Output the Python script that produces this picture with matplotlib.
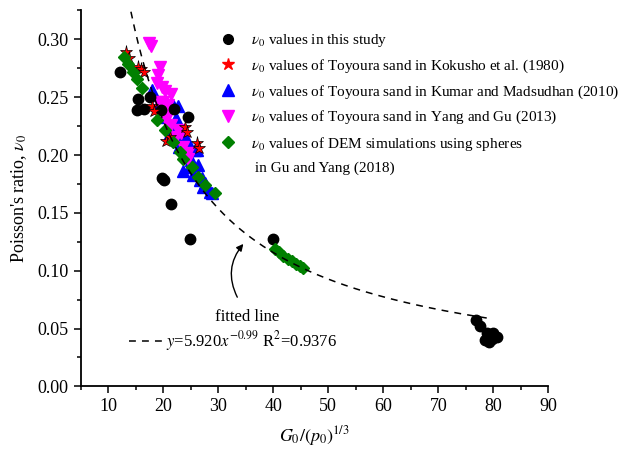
import matplotlib
matplotlib.use("Agg")
import matplotlib.pyplot as plt
from matplotlib.lines import Line2D
from matplotlib.ticker import MultipleLocator
import numpy as np

plt.rcParams["font.family"] = ["Liberation Serif", "DejaVu Serif"]
plt.rcParams["mathtext.fontset"] = "stix"

# this study
study_x = [12.1, 15.5, 15.2, 16.5, 17.6, 19.6, 22.0, 24.5, 19.7, 20.1, 21.5, 24.9, 39.9,
           76.8, 77.6, 78.8, 78.5, 79.7, 80.6, 80.0, 79.3]
study_y = [0.272, 0.248, 0.239, 0.240, 0.250, 0.239, 0.2396, 0.233, 0.180, 0.178, 0.158, 0.127, 0.127,
           0.0575, 0.052, 0.046, 0.040, 0.041, 0.043, 0.046, 0.0387]

# Kokusho et al. (1980)
kok_x = [13.3, 13.8, 15.5, 16.0, 16.5, 17.9, 18.3, 20.6, 21.2, 23.9, 24.4, 26.1, 26.5]
kok_y = [0.289, 0.284, 0.276, 0.274, 0.272, 0.242, 0.238, 0.212, 0.216, 0.2245, 0.220, 0.210, 0.206]

# Kumar and Madsudhan (2010)
kum_x = [17.9, 19.5, 20.6, 21.5, 21.8, 22.7, 22.4, 21.2, 23.6, 24.3, 25.8, 26.1, 24.9, 26.4,
         25.5, 27.0, 27.6, 28.8, 26.7, 28.5, 23.6, 25.0, 22.8, 27.3]
kum_y = [0.256, 0.245, 0.233, 0.222, 0.243, 0.242, 0.232, 0.219, 0.216, 0.213, 0.204, 0.204, 0.190, 0.191,
         0.183, 0.180, 0.1756, 0.167, 0.178, 0.168, 0.186, 0.196, 0.207, 0.172]

# Yang and Gu (2013)
yg_x = [17.4, 17.7, 19.4, 19.1, 18.8, 19.7, 20.3, 21.5, 20.0, 20.9, 19.1, 19.7, 20.6, 21.5,
        22.7, 23.6, 24.5, 24.5, 22.4, 23.3, 20.9]
yg_y = [0.297, 0.294, 0.276, 0.269, 0.262, 0.259, 0.255, 0.253, 0.246, 0.243, 0.246, 0.240, 0.230, 0.226,
        0.2217, 0.207, 0.2015, 0.197, 0.216, 0.219, 0.236]

# DEM, Gu and Yang (2018)
dem_x = [12.8, 13.6, 14.5, 15.2, 16.1, 18.8, 20.3, 21.8, 23.0, 23.6, 26.4, 27.6, 29.4, 25.2,
         40.3, 41.0, 41.8, 42.6, 43.4, 44.2, 44.9, 45.4]
dem_y = [0.285, 0.279, 0.272, 0.266, 0.258, 0.230, 0.222, 0.2116, 0.203, 0.197, 0.181, 0.174, 0.167, 0.190,
         0.119, 0.116, 0.113, 0.110, 0.108, 0.106, 0.104, 0.102]

# fitted power law as drawn
fit_a = 4.46
fit_b = -0.99
fit_range = (13.5, 79.0)

fig = plt.figure(figsize=(6.35, 4.53), dpi=100)
ax = fig.add_axes([0.127, 0.147, 0.7365, 0.83])

ax.plot(kum_x, kum_y, "^", color="blue", ms=8.5, mec="blue", ls="none", zorder=2)
ax.plot(yg_x, yg_y, "v", color="#ff00ff", ms=8.5, mec="#ff00ff", ls="none", zorder=3)
ax.plot(study_x, study_y, "o", color="black", ms=7.5, ls="none", zorder=4)
ax.plot(kok_x, kok_y, "*", color="red", ms=9.5, mec="black", mew=0.5, ls="none", zorder=5)
ax.plot(dem_x, dem_y, "D", color="green", ms=6.5, mec="green", ls="none", zorder=6)

xf = np.linspace(fit_range[0], fit_range[1], 200)
ax.plot(xf, fit_a * xf ** fit_b, "--", color="black", lw=1.1, dashes=(4.5, 4), zorder=7)

ax.set_xlim(5, 90)
ax.set_ylim(0, 0.325)
ax.xaxis.set_major_locator(MultipleLocator(10))
ax.xaxis.set_minor_locator(MultipleLocator(5))
ax.yaxis.set_major_locator(MultipleLocator(0.05))
ax.yaxis.set_minor_locator(MultipleLocator(0.025))
ax.yaxis.set_major_formatter(plt.FormatStrFormatter("%.2f"))
for s in ["top", "right"]:
    ax.spines[s].set_visible(False)
for s in ["left", "bottom"]:
    ax.spines[s].set_linewidth(1.3)
ax.tick_params(which="major", direction="out", length=5, width=1.1, labelsize=13)
ax.tick_params(which="minor", direction="out", length=3, width=1.1)

ax.set_xlabel(r"$G_0/(p_0)^{1/3}$", fontsize=13, labelpad=6)
ax.set_ylabel(r"Poisson's ratio, $\nu_0$", fontsize=13, labelpad=6)

# annotation of the fitted line
ax.annotate("", xy=(34.9, 0.125), xytext=(33.7, 0.075),
            arrowprops=dict(arrowstyle="-|>", color="black", lw=1.0,
                            connectionstyle="arc3,rad=-0.35", mutation_scale=10))
ax.text(35.2, 0.060, "fitted line", ha="center", va="center", fontsize=12)
ax.add_line(Line2D([13.8, 19.9], [0.039, 0.039], color="black", ls="--", lw=1.1, dashes=(4.5, 4)))
ax.text(20.6, 0.039, r"$y$=5.920$x^{-0.99}$ R$^2$=0.9376", ha="left", va="center", fontsize=12)

handles = [
    Line2D([], [], marker="o", color="black", ms=7, ls="none"),
    Line2D([], [], marker="*", color="red", ms=9, ls="none"),
    Line2D([], [], marker="^", color="blue", ms=8, ls="none"),
    Line2D([], [], marker="v", color="#ff00ff", ms=8, ls="none"),
    Line2D([], [], marker="D", color="green", ms=6, ls="none"),
    Line2D([], [], ls="none"),
]
labels = [
    r"$\nu_0$ values in this study",
    r"$\nu_0$ values of Toyoura sand in Kokusho et al. (1980)",
    r"$\nu_0$ values of Toyoura sand in Kumar and Madsudhan (2010)",
    r"$\nu_0$ values of Toyoura sand in Yang and Gu (2013)",
    r"$\nu_0$ values of DEM simulations using spheres",
    " in Gu and Yang (2018)",
]
fig.legend(handles, labels, loc="upper left", bbox_to_anchor=(0.3476, 0.929),
           frameon=False, fontsize=11, handlelength=1.0, handletextpad=1.0,
           labelspacing=0.55, borderpad=0, borderaxespad=0)

fig.savefig("out.png", dpi=100)
